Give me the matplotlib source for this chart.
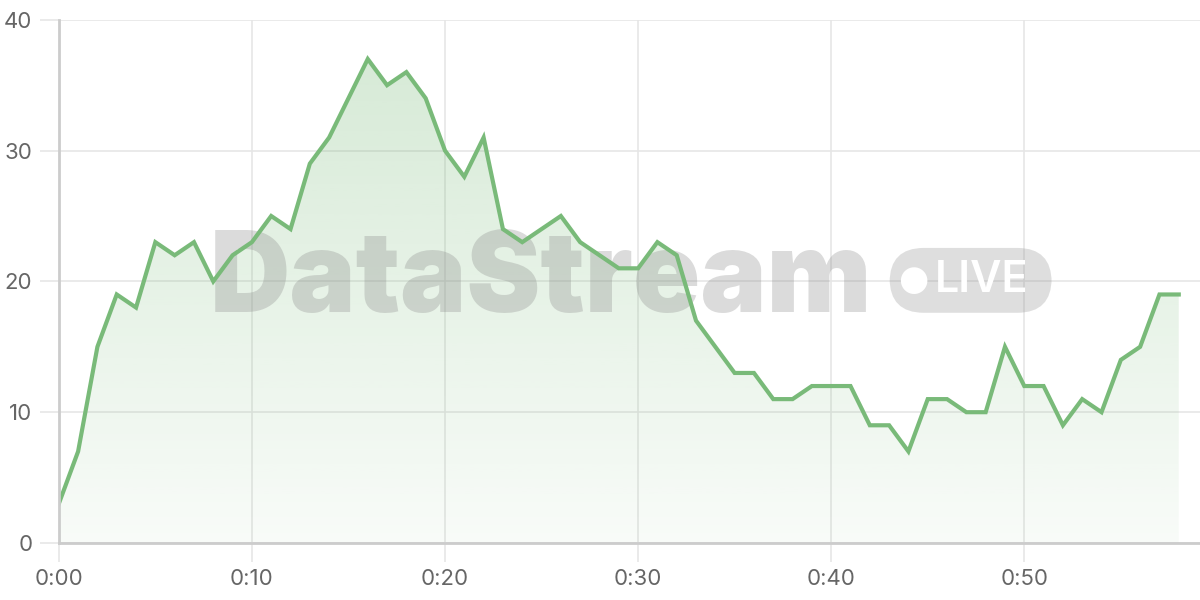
import numpy as np
import matplotlib.pyplot as plt
from matplotlib.patches import FancyBboxPatch

plt.rcParams['font.family'] = ['Inter', 'DejaVu Sans']

# minutes since start and the live value at each minute
minutes = list(range(59))
values = [3, 7, 15, 19, 18, 23, 22, 23, 20, 22,
          23, 25, 24, 29, 31, 34, 37, 35, 36, 34,
          30, 28, 31, 24, 23, 24, 25, 23, 22, 21,
          21, 23, 22, 17, 15, 13, 13, 11, 11, 12,
          12, 12, 9, 9, 7, 11, 11, 10, 10, 15,
          12, 12, 9, 11, 10, 14, 15, 19, 19]
xticks = [0, 10, 20, 30, 40, 50]
xticklabels = ["0:00", "0:10", "0:20", "0:30", "0:40", "0:50"]
yticks = [0, 10, 20, 30, 40]

line_col = "#79ba79"
grid_col = "#e6e6e6"

fig = plt.figure(figsize=(12, 6), dpi=100)
ax = fig.add_axes([0.049, 0.095, 0.951, 0.872])

x = np.array(minutes)
y = np.array(values)

# gradient fill under the line
poly = ax.fill_between(x, y, 0, color="none", lw=0)
grad = np.linspace(0.32, 0.05, 256).reshape(-1, 1)
rgba = np.zeros((256, 1, 4))
rgba[..., 0] = 0x79 / 255
rgba[..., 1] = 0xba / 255
rgba[..., 2] = 0x79 / 255
rgba[..., 3] = grad
img = ax.imshow(rgba, aspect="auto", extent=[x.min(), x.max(), 0, 40],
                origin="upper", zorder=1.5)
img.set_clip_path(poly.get_paths()[0], transform=ax.transData)

ax.plot(x, y, color=line_col, lw=3, zorder=4, solid_joinstyle="miter")

# watermark
ax.text(0.132, 0.442, "DataStream", transform=ax.transAxes, fontsize=80,
        fontweight=900, color="#888888", alpha=0.3, ha="left",
        va="baseline", zorder=3)
badge = FancyBboxPatch((0.728, 0.44), 0.142, 0.124, transform=ax.transAxes,
                       boxstyle="round,pad=0,rounding_size=0.03",
                       mutation_aspect=2.2,
                       fc="#888888", ec="none", alpha=0.27, zorder=3)
ax.add_patch(badge)
ax.text(0.7485, 0.502, "\u25CF", transform=ax.transAxes, fontsize=25,
        color="white", ha="center", va="center", zorder=3.1,
        family=["DejaVu Sans"])
ax.text(0.768, 0.502, "LIVE", transform=ax.transAxes, fontsize=31,
        fontweight="semibold", color="white", ha="left", va="center",
        zorder=3.1)

ax.set_xlim(0, 59.1)
ax.set_ylim(0, 40)
ax.set_xticks(xticks)
ax.set_xticklabels(xticklabels)
ax.set_yticks(yticks)

ax.grid(True, color=grid_col, lw=1.2, zorder=0)
ax.set_axisbelow(True)
for s in ["top", "right"]:
    ax.spines[s].set_visible(False)
for s in ["left", "bottom"]:
    ax.spines[s].set_color("#cccccc")
    ax.spines[s].set_linewidth(2)
    ax.spines[s].set_zorder(5)
ax.tick_params(axis="both", length=14, width=1.2, color=grid_col,
               labelsize=16, labelcolor="#666666", pad=5)

fig.savefig("out.png", dpi=100)
